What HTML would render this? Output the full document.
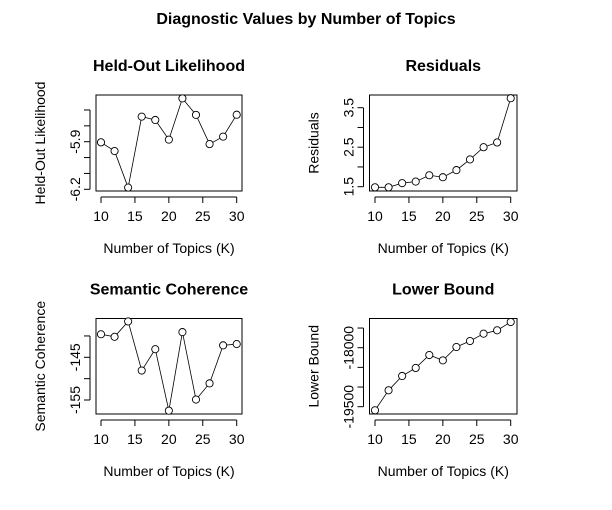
<!DOCTYPE html>
<html><head><meta charset="utf-8"><style>
body{margin:0;background:#fff;}
svg{display:block;font-family:"Liberation Sans",Arial,sans-serif;}
</style></head><body>
<svg id="c" width="612" height="510" viewBox="0 0 612 510">
<text x="306" y="24" text-anchor="middle" font-weight="bold" font-size="16">Diagnostic Values by Number of Topics</text>
</svg>
<script>
const topicsK = [10,12,14,16,18,20,22,24,26,28,30];
const heldOut = [-5.904,-5.959,-6.189,-5.742,-5.763,-5.887,-5.627,-5.731,-5.915,-5.868,-5.73];
const residuals = [1.485,1.485,1.59,1.63,1.79,1.74,1.92,2.19,2.5,2.62,3.74];
const semCoh = [-139.6,-140.2,-136.6,-148.1,-143.1,-157.5,-139.1,-154.9,-151.1,-142.2,-141.9];
const lowerBound = [-19591,-19083,-18719,-18515,-18186,-18322,-17982,-17830,-17644,-17558,-17347];
const xTicks = [10,15,20,25,30];
const heldTicks = [-6.2,-6.1,-6.0,-5.9,-5.8,-5.7];
const heldLabels = ["-6.2","","","-5.9","",""];
const resTicks = [1.5,2.0,2.5,3.0,3.5];
const resLabels = ["1.5","","2.5","","3.5"];
const semTicks = [-155,-150,-145,-140];
const semLabels = ["-155","","-145",""];
const lbTicks = [-19500,-19000,-18500,-18000,-17500];
const lbLabels = ["-19500","","","-18000",""];

const NS="http://www.w3.org/2000/svg";
const svg=document.getElementById('c');
function mk(tag,attrs,parent){const e=document.createElementNS(NS,tag);for(const k in attrs)e.setAttribute(k,attrs[k]);(parent||svg).appendChild(e);return e;}

function panel(p){
  const g=mk('g',{});
  
  
  const X=v=>p.x10+(v-10)*(p.x30-p.x10)/20;
  const Y=v=>p.yA+(v-p.vA)*(p.yB-p.yA)/(p.vB-p.vA);
  const box=mk('rect',{x:p.bx0,y:p.by0,width:p.bx1-p.bx0,height:p.by1-p.by0,fill:'none',stroke:'#000','stroke-width':1},g);
  
  
  const t=mk('text',{x:(p.bx0+p.bx1)/2,y:p.by0-24,'text-anchor':'middle','font-weight':'bold','font-size':16},g);
  t.textContent=p.title;
  
  
  const xa=mk('g',{},g);
  
  
  mk('line',{x1:X(10),x2:X(30),y1:p.by1+6,y2:p.by1+6,stroke:'#000'},xa);
  xTicks.forEach(v=>{
    mk('line',{x1:X(v),x2:X(v),y1:p.by1+6,y2:p.by1+12,stroke:'#000'},xa);
    const tl=mk('text',{x:X(v),y:p.by1+30,'text-anchor':'middle','font-size':14},xa);
    tl.textContent=v;
    
    
  });
  const xl=mk('text',{x:(p.bx0+p.bx1)/2,y:p.by1+62,'text-anchor':'middle','font-size':14},g);
  xl.textContent='Number of Topics (K)';
  
  
  const ya=mk('g',{},g);
  
  
  const yx=p.bx0-6;
  mk('line',{x1:yx,x2:yx,y1:Y(p.ticks[0]),y2:Y(p.ticks[p.ticks.length-1]),stroke:'#000'},ya);
  p.ticks.forEach((v,i)=>{
    mk('line',{x1:yx-6,x2:yx,y1:Y(v),y2:Y(v),stroke:'#000'},ya);
    if(p.labels[i]){
      const tl=mk('text',{x:yx-10,y:Y(v),'text-anchor':'middle','font-size':14,transform:`rotate(-90 ${yx-10} ${Y(v)})`},ya);
      tl.textContent=p.labels[i];
      
      
    }
  });
  const cy=(p.by0+p.by1)/2, lx=p.bx0-51;
  const yl=mk('text',{x:lx,y:cy,'text-anchor':'middle','font-size':14,transform:`rotate(-90 ${lx} ${cy})`},g);
  yl.textContent=p.ylab;
  
  
  const pts=topicsK.map((k,i)=>X(k)+','+Y(p.vals[i])).join(' ');
  const line=mk('polyline',{points:pts,fill:'none',stroke:'#000','stroke-width':0.8},g);
  
  
  topicsK.forEach((k,i)=>{
    const c=mk('circle',{cx:X(k),cy:Y(p.vals[i]),r:3.6,fill:'#fff',stroke:'#000','stroke-width':0.9},g);
    
    
  });
}
panel({name:'held-out-likelihood-panel',title:'Held-Out Likelihood',ylab:'Held-Out Likelihood',bx0:96,bx1:242,by0:95,by1:191,x10:101,x30:236.7,yA:141.7,vA:-5.9,yB:189.3,vB:-6.2,ticks:heldTicks,labels:heldLabels,vals:heldOut});
panel({name:'residuals-panel',title:'Residuals',ylab:'Residuals',bx0:369.5,bx1:517,by0:95,by1:191,x10:375,x30:510.7,yA:186.7,vA:1.5,yB:107.7,vB:3.5,ticks:resTicks,labels:resLabels,vals:residuals});
panel({name:'semantic-coherence-panel',title:'Semantic Coherence',ylab:'Semantic Coherence',bx0:96,bx1:242,by0:318.5,by1:414,x10:101,x30:236.7,yA:357.3,vA:-145,yB:400,vB:-155,ticks:semTicks,labels:semLabels,vals:semCoh});
panel({name:'lower-bound-panel',title:'Lower Bound',ylab:'Lower Bound',bx0:369.5,bx1:517,by0:318.5,by1:414,x10:375,x30:510.7,yA:347.7,vA:-18000,yB:406.7,vB:-19500,ticks:lbTicks,labels:lbLabels,vals:lowerBound});
</script>
</body></html>
